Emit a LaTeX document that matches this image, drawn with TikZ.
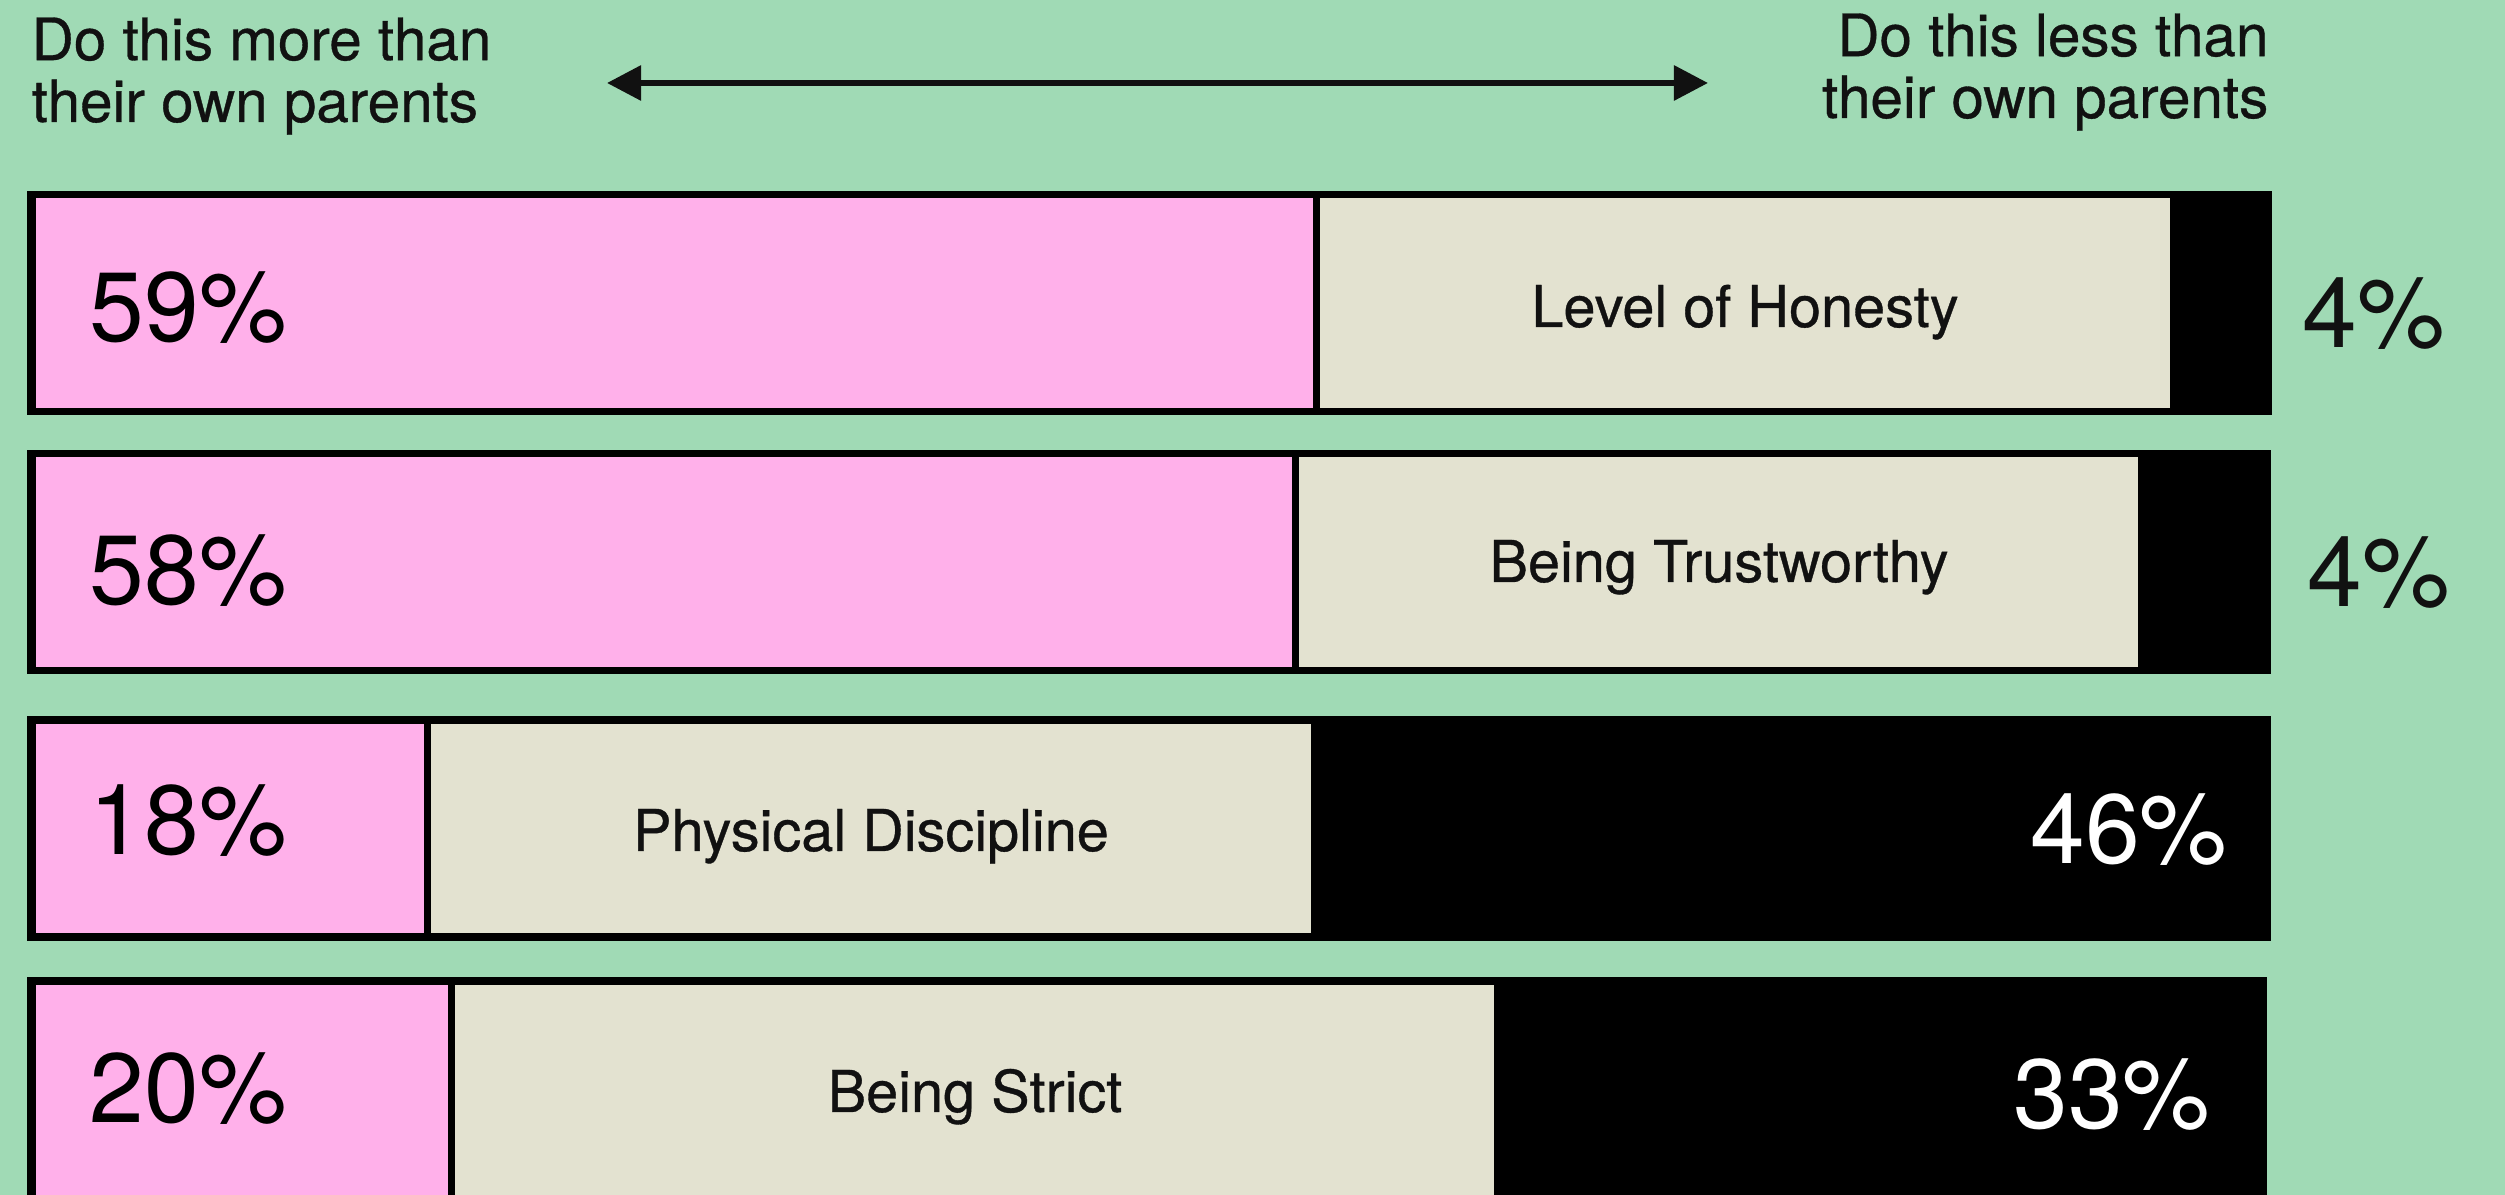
\documentclass[tikz,border=0pt]{standalone}
\usepackage{fontspec}
\setmainfont{TeX Gyre Heros}
\newfontfamily\medfont[FakeBold=0.6]{TeX Gyre Heros}
\usetikzlibrary{arrows.meta}
\definecolor{bggreen}{HTML}{A0DAB5}
\definecolor{barpink}{HTML}{FFB0EA}
\definecolor{barbeige}{HTML}{E3E2D0}
\definecolor{ink}{HTML}{111111}
\tikzset{% styles for the bar chart
  head/.style={font=\medfont\fontsize{16.6}{17.6}\selectfont, text=ink, inner sep=0pt},
  lbl/.style={font=\medfont\fontsize{16.4}{18}\selectfont, text=ink, inner sep=0pt, anchor=base},
  pct/.style={font=\fontsize{28}{30}\selectfont, inner sep=0pt, anchor=base west},
  more/.style={fill=barpink},
  same/.style={fill=barbeige},
  less/.style={fill=black}
}

\begin{document}
\begin{tikzpicture}[x=0.01cm, y=-0.01cm]
\useasboundingbox (0,0) rectangle (2505,1195);
\clip (0,0) rectangle (2505,1195);
\fill[bggreen] (0,0) rectangle (2505,1195);

% header and arrow (base = last line)
\node[head, anchor=base west, align=left] (headmore) at (31,122) {Do this more than\\their own parents};
\node[head, anchor=base east, align=right] (headless) at (2269,118) {Do this less than\\their own parents};
\coordinate (arrL) at (607,83);
\coordinate (arrR) at (1708,83);
\draw[ink, line width=0.06cm, {Triangle[length=0.34cm, width=0.34cm]}-{Triangle[length=0.34cm, width=0.34cm]}] (arrL) -- (arrR);

% first bar
\fill[less] (27,191) rectangle (2272,415);
\fill[more] (36,198) rectangle (1313,408);
\fill[same] (1320,198) rectangle (2170,408);
\node[pct] (honestyMore) at (89,342) {59\%};
\node[lbl] (honesty) at (1745,327) {Level of Honesty};
\node[pct, text=ink] (honestyLess) at (2302,348) {4\%};

% second bar
\fill[less] (27,450) rectangle (2271,674);
\fill[more] (36,457) rectangle (1292,667);
\fill[same] (1299,457) rectangle (2138,667);
\node[pct] (trustMore) at (89,605) {58\%};
\node[lbl] (trust) at (1719,582) {Being Trustworthy};
\node[pct, text=ink] (trustLess) at (2307,607) {4\%};

% third bar
\fill[less] (27,716) rectangle (2271,941);
\fill[more] (36,724) rectangle (424,933);
\fill[same] (431,724) rectangle (1311,933);
\node[pct] (disciplineMore) at (89,855) {18\%};
\node[lbl] (discipline) at (871,851) {Physical Discipline};
\node[pct, anchor=base east, text=white] (disciplineLess) at (2228,864) {46\%};

% fourth bar, cut by the lower edge
\fill[less] (27,977) rectangle (2267,1220);
\fill[more] (36,985) rectangle (448,1220);
\fill[same] (455,985) rectangle (1494,1220);
\node[pct] (strictMore) at (89,1123) {20\%};
\node[lbl] (strict) at (975,1112) {Being Strict};
\node[pct, anchor=base east, text=white] (strictLess) at (2211,1129) {33\%};

\end{tikzpicture}
\end{document}
